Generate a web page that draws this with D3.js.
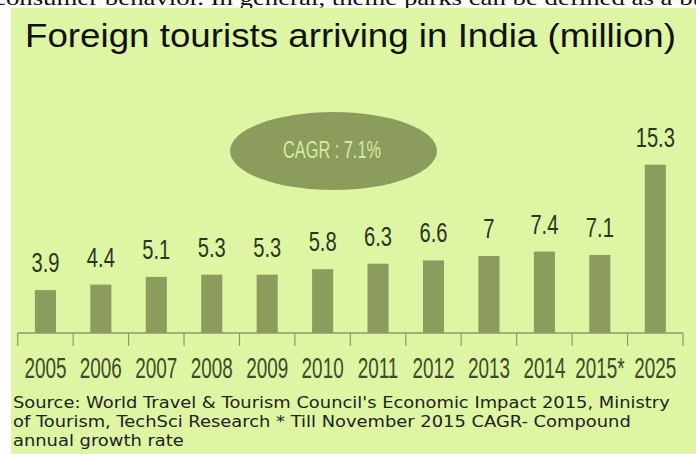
<!DOCTYPE html>
<html>
<head>
<meta charset="utf-8">
<script src="https://cdn.jsdelivr.net/npm/d3@7"></script>
<style>
  html, body { margin: 0; padding: 0; background: #ffffff; overflow: hidden; }
  svg { display: block; }
</style>
</head>
<body>
<svg id="chart" width="696" height="454"></svg>
<script>
// Foreign tourist arrivals in India, million
const years = ["2005", "2006", "2007", "2008", "2009", "2010", "2011", "2012", "2013", "2014", "2015*", "2025"];
const arrivals = [3.9, 4.4, 5.1, 5.3, 5.3, 5.8, 6.3, 6.6, 7, 7.4, 7.1, 15.3];
const valueLabels = ["3.9", "4.4", "5.1", "5.3", "5.3", "5.8", "6.3", "6.6", "7", "7.4", "7.1", "15.3"];
const titleText = "Foreign tourists arriving in India (million)";
const cagrText = "CAGR : 7.1%";
const sourceLines = [
  "Source: World Travel & Tourism Council's Economic Impact 2015, Ministry",
  "of Tourism, TechSci Research * Till November 2015 CAGR- Compound",
  "annual growth rate"
];
const pageText = "consumer behavior. In general, theme parks can be defined as a bu";

const svg = d3.select("#chart");
const W = 696, H = 454;

// surrounding page text, mostly hidden behind the panel
svg.append("text")
  .attr("x", -6).attr("y", 5)
  .attr("font-family", "Liberation Serif, Times New Roman, serif")
  .attr("font-size", 21)
  .attr("fill", "#111")
  .attr("textLength", 712)
  .attr("lengthAdjust", "spacingAndGlyphs")
  .text(pageText);

// panel background
svg.append("rect")
  .attr("x", 11).attr("y", 8)
  .attr("width", W - 11).attr("height", H - 8)
  .attr("fill", "#def6a4");

// title
svg.append("text")
  .attr("x", 25).attr("y", 47)
  .attr("font-family", "Liberation Sans, Arial, sans-serif")
  .attr("font-size", 33)
  .attr("fill", "#111")
  .attr("textLength", 651)
  .attr("lengthAdjust", "spacingAndGlyphs")
  .text(titleText);

// scales
const x = d3.scaleBand().domain(years).range([17.7, 683]).padding(0);
const y = d3.scaleLinear().domain([0, 16]).range([333, 333 - 16 * 11]);
const barW = x.bandwidth() * 0.38;
const barColor = "#8b9c5d";

// CAGR badge
svg.append("ellipse")
  .attr("cx", 333.5).attr("cy", 151)
  .attr("rx", 103.5).attr("ry", 39)
  .attr("fill", barColor);
svg.append("text")
  .attr("x", 283).attr("y", 158)
  .attr("font-family", "Liberation Sans, Arial, sans-serif")
  .attr("font-size", 23)
  .attr("fill", "#d6eea0")
  .attr("textLength", 98)
  .attr("lengthAdjust", "spacingAndGlyphs")
  .text(cagrText);

// bars
svg.append("g").selectAll("rect")
  .data(arrivals)
  .join("rect")
  .attr("x", (d, i) => x(years[i]) + x.bandwidth() / 2 - barW / 2)
  .attr("y", d => y(d))
  .attr("width", barW)
  .attr("height", d => y(0) - y(d))
  .attr("fill", barColor);

// value labels
svg.append("g").selectAll("text")
  .data(arrivals)
  .join("text")
  .attr("transform", (d, i) => `translate(${x(years[i]) + x.bandwidth() / 2},${y(d) - 18}) scale(0.72,1)`)
  .attr("text-anchor", "middle")
  .attr("font-family", "Liberation Sans, Arial, sans-serif")
  .attr("font-size", 28)
  .attr("fill", "#2c3423")
  .text((d, i) => valueLabels[i]);

// category axis with ticks at band edges
const axisColor = "#8c9b68";
const axis = svg.append("g");
axis.append("line")
  .attr("x1", x.range()[0]).attr("x2", x.range()[1])
  .attr("y1", y(0)).attr("y2", y(0))
  .attr("stroke", axisColor).attr("stroke-width", 1.5);
const edges = years.map(d => x(d)).concat([x.range()[1]]);
axis.selectAll("line.tick")
  .data(edges)
  .join("line")
  .attr("class", "tick")
  .attr("x1", d => d).attr("x2", d => d)
  .attr("y1", y(0)).attr("y2", y(0) + 13)
  .attr("stroke", axisColor).attr("stroke-width", 1.2);

axis.selectAll("text")
  .data(years)
  .join("text")
  .attr("transform", d => `translate(${x(d) + x.bandwidth() / 2},378) scale(0.63,1)`)
  .attr("text-anchor", "middle")
  .attr("font-family", "Liberation Sans, Arial, sans-serif")
  .attr("font-size", 30)
  .attr("fill", "#3f4b27")
  .text(d => d);

// source note
const note = svg.append("g")
  .attr("font-family", "DejaVu Sans, Verdana, sans-serif")
  .attr("font-size", 15)
  .attr("fill", "#222");
const lines = note.selectAll("text")
  .data(sourceLines)
  .join("text")
  .attr("x", 0).attr("y", 0)
  .text(d => d);
const natural = lines.nodes()[0].getComputedTextLength();
const sx = 657 / natural;
lines.attr("transform", (d, i) => `translate(13,${408 + i * 19}) scale(${sx},1)`);
</script>
</body>
</html>
